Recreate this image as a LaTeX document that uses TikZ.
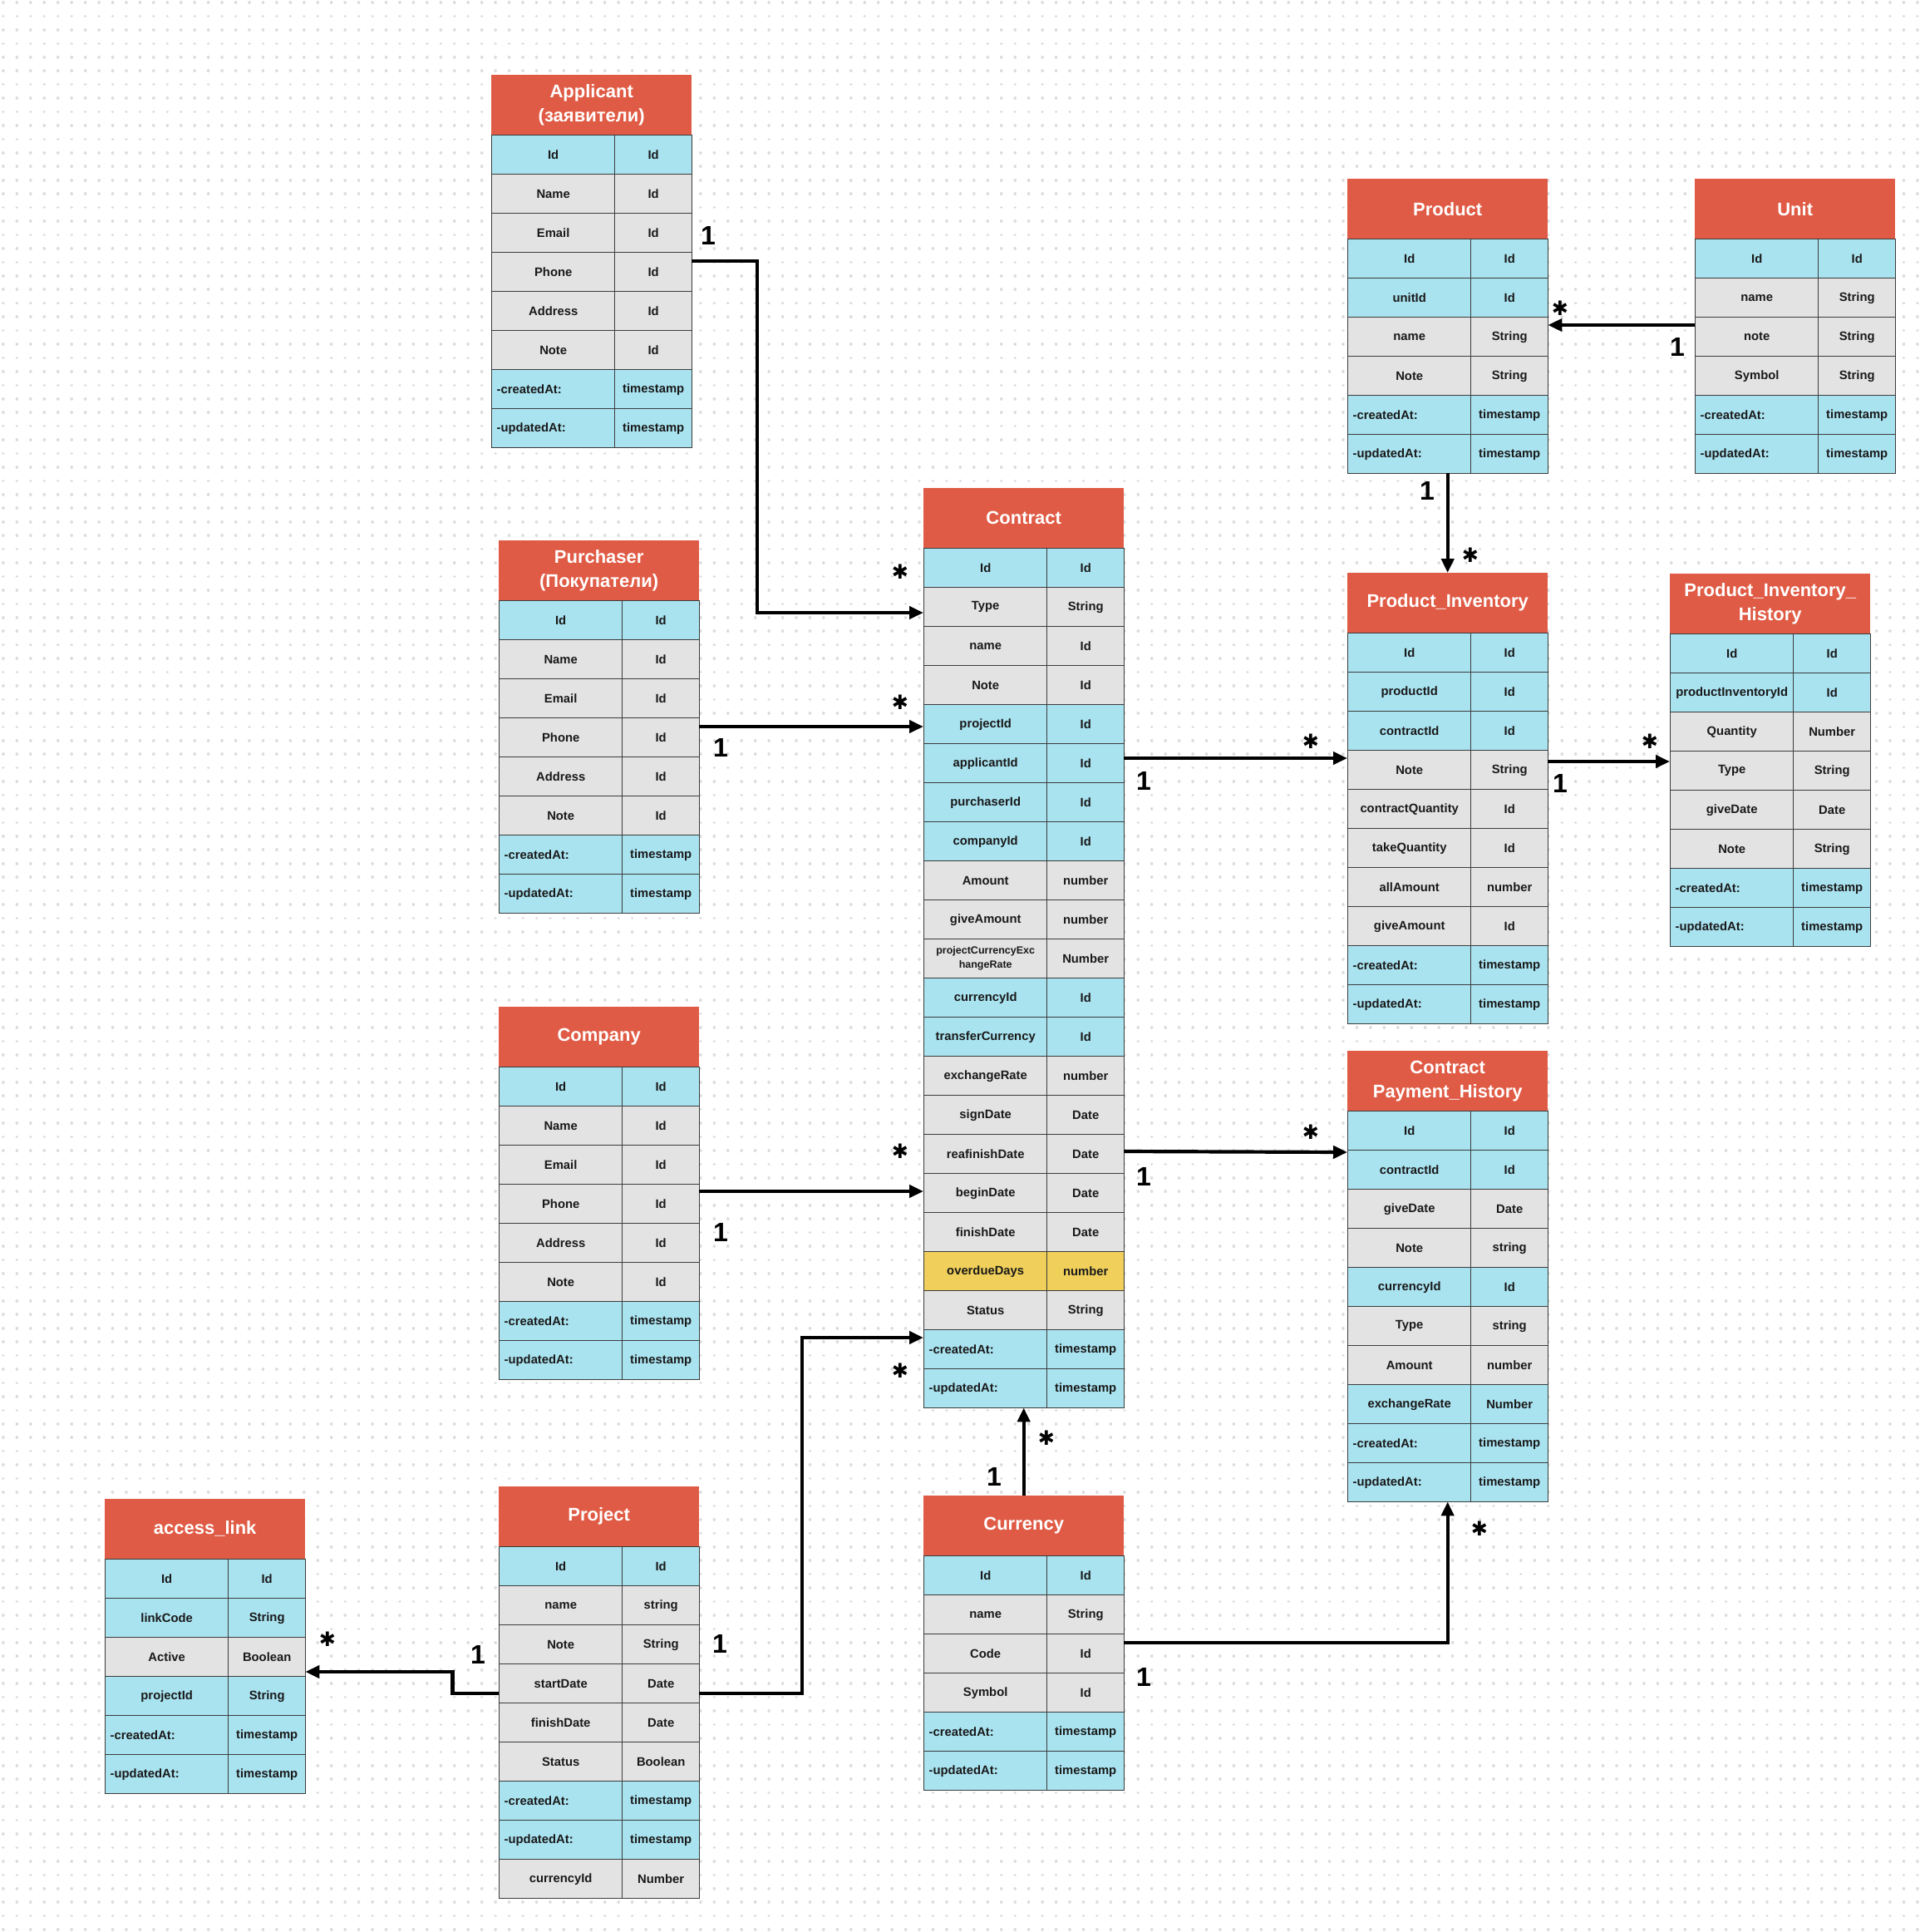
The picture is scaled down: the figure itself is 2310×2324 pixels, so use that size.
\documentclass[tikz,border=0pt]{standalone}
\usepackage{fontspec}
\setmainfont{Liberation Sans}
\newfontfamily\dejavu{DejaVu Sans}
\usetikzlibrary{arrows.meta}
\hyphenpenalty=10000
\definecolor{hdrred}{HTML}{E05B45}
\definecolor{blu}{HTML}{A9E3F0}
\definecolor{gry}{HTML}{E3E3E3}
\definecolor{yel}{HTML}{F0D05A}
\definecolor{bord}{HTML}{3C3C3C}
\definecolor{dotc}{HTML}{DCDCDC}
\tikzset{
  hdr/.style={fill=hdrred, text=white, minimum width=241pt, minimum height=72pt, inner sep=0pt,
    align=center, font=\fontsize{22}{29}\selectfont\bfseries, anchor=north west},
  cellL/.style={draw=bord, line width=1.4pt, minimum height=47pt, minimum width=148pt,
    text width=136pt, inner xsep=6pt, inner ysep=0pt, anchor=north west,
    font=\fontsize{14.8}{17}\selectfont\bfseries, text=black!90},
  cellR/.style={draw=bord, line width=1.4pt, minimum height=47pt, minimum width=93pt,
    text width=85pt, inner xsep=4pt, inner ysep=0pt, align=center, anchor=north west,
    font=\fontsize{14.8}{17}\selectfont\bfseries, text=black!90},
  Lb/.style={fill=blu, align=center}, Rb/.style={fill=blu},
  Lg/.style={fill=gry, align=center}, Rg/.style={fill=gry},
  Ly/.style={fill=yel, align=center}, Ry/.style={fill=yel},
  Lt/.style={fill=blu, align=left}, Rt/.style={fill=blu},
  tab/.style={inner sep=0pt, minimum width=241pt, anchor=north west},
  conn/.style={line width=4.2pt, draw=black, -{Triangle[length=17pt,width=15pt]}},
  one/.style={font=\fontsize{32}{36}\selectfont\bfseries, inner sep=0pt},
  many/.style={font=\dejavu\fontsize{24}{28}\selectfont, inner sep=0pt},
  dotrow/.style={draw=dotc, line width=3.6pt, line cap=round, dash pattern=on 0.01pt off 16.44pt},
}
% #1 name, #2 x, #3 y (top), #4 title, #5 number of rows, #6 rows
\newcommand\ertable[6]{%
  \pgfmathsetmacro\erh{72+47*#5}%
  \node[tab, minimum height=\erh pt] (#1) at (#2,#3) {};
  \node[hdr] (#1-h) at (#2,#3) {#4};
  \foreach [count=\erI] \erC/\erA/\erB in {#6} {
    \node[cellL, L\erC] (#1-\erI-a) at (#2, #3+25+47*\erI) {\erA};
    \node[cellR, R\erC] (#1-\erI-b) at (#2+148, #3+25+47*\erI) {\erB};
  }
}
\begin{document}
\begin{tikzpicture}[x=1pt, y=-1pt]
\fill[white] (0,0) rectangle (2310,2324);
\useasboundingbox (0,0) rectangle (2310,2324);
\foreach \k in {0,...,141} \draw[dotrow] (3.9,3+16.44*\k) -- (2310,3+16.44*\k);

\ertable{app}{591}{90}{Applicant\\(заявители)}{8}{b/Id/Id, g/Name/Id, g/Email/Id, g/Phone/Id, g/Address/Id, g/Note/Id, t/-createdAt:/timestamp, t/-updatedAt:/timestamp}
\ertable{pur}{600}{650}{Purchaser\\(Покупатели)}{8}{b/Id/Id, g/Name/Id, g/Email/Id, g/Phone/Id, g/Address/Id, g/Note/Id, t/-createdAt:/timestamp, t/-updatedAt:/timestamp}
\ertable{comp}{600}{1211}{Company}{8}{b/Id/Id, g/Name/Id, g/Email/Id, g/Phone/Id, g/Address/Id, g/Note/Id, t/-createdAt:/timestamp, t/-updatedAt:/timestamp}
\ertable{proj}{600}{1788}{Project}{9}{b/Id/Id, g/name/string, g/Note/String, g/startDate/Date, g/finishDate/Date, g/Status/Boolean, t/-createdAt:/timestamp, t/-updatedAt:/timestamp, g/currencyId/Number}
\ertable{acc}{126}{1803}{access\_link}{6}{b/Id/Id, b/linkCode/String, g/Active/Boolean, b/projectId/String, t/-createdAt:/timestamp, t/-updatedAt:/timestamp}
\ertable{con}{1111}{587}{Contract}{22}{b/Id/Id, g/Type/String, g/name/Id, g/Note/Id, b/projectId/Id, b/applicantId/Id, b/purchaserId/Id, b/companyId/Id, g/Amount/number, g/giveAmount/number, g/{\fontsize{12.5}{15.5}\selectfont projectCurrencyExc\\hangeRate}/Number, b/currencyId/Id, b/transferCurrency/Id, g/exchangeRate/number, g/signDate/Date, g/reafinishDate/Date, g/beginDate/Date, g/finishDate/Date, y/overdueDays/number, g/Status/String, t/-createdAt:/timestamp, t/-updatedAt:/timestamp}
\ertable{cur}{1111}{1799}{Currency}{6}{b/Id/Id, g/name/String, g/Code/Id, g/Symbol/Id, t/-createdAt:/timestamp, t/-updatedAt:/timestamp}
\ertable{prod}{1621}{215}{Product}{6}{b/Id/Id, b/unitId/Id, g/name/String, g/Note/String, t/-createdAt:/timestamp, t/-updatedAt:/timestamp}
\ertable{unit}{2039}{215}{Unit}{6}{b/Id/Id, g/name/String, g/note/String, g/Symbol/String, t/-createdAt:/timestamp, t/-updatedAt:/timestamp}
\ertable{pinv}{1621}{689}{Product\_Inventory}{10}{b/Id/Id, b/productId/Id, b/contractId/Id, g/Note/String, g/contractQuantity/Id, g/takeQuantity/Id, g/allAmount/number, g/giveAmount/Id, t/-createdAt:/timestamp, t/-updatedAt:/timestamp}
\ertable{pih}{2009}{690}{Product\_Inventory\_\\History}{8}{b/Id/Id, b/productInventoryId/Id, g/Quantity/Number, g/Type/String, g/giveDate/Date, g/Note/String, t/-createdAt:/timestamp, t/-updatedAt:/timestamp}
\ertable{cph}{1621}{1264}{Contract\\Payment\_History}{10}{b/Id/Id, b/contractId/Id, g/giveDate/Date, g/Note/string, b/currencyId/Id, g/Type/string, g/Amount/number, b/exchangeRate/Number, t/-createdAt:/timestamp, t/-updatedAt:/timestamp}

% connectors
\draw[conn] ([yshift=-224pt]app.north east) -| ([xshift=-200pt,yshift=-150pt]con.north west) -- ([yshift=-150pt]con.north west);
\draw[conn] ([yshift=-224pt]pur.north east) -- ([yshift=-287pt]con.north west);
\draw[conn] ([yshift=-222pt]comp.north east) -- ([yshift=-846pt]con.north west);
\draw[conn] ([yshift=-249pt]proj.north east) -| ([xshift=-146pt,yshift=-1022pt]con.north west) -- ([yshift=-1022pt]con.north west);
\draw[conn] ([yshift=-249pt]proj.north west) -| ([xshift=177pt,yshift=-208pt]acc.north east) -- ([yshift=-208pt]acc.north east);
\draw[conn] (cur.north) -- (con.south);
\draw[conn] ([yshift=-177pt]cur.north east) -| (cph.south);
\draw[conn] ([yshift=-798pt]con.north east) -- ([yshift=-122pt]cph.north west);
\draw[conn] ([yshift=-325pt]con.north east) -- ([yshift=-223pt]pinv.north west);
\draw[conn] (prod.south) -- (pinv.north);
\draw[conn] ([yshift=-176pt]unit.north west) -- ([yshift=-176pt]prod.north east);
\draw[conn] ([yshift=-227pt]pinv.north east) -- ([yshift=-226pt]pih.north west);

% multiplicity labels
\node[one] (o1) at (852,283) {1};
\node[one] (o2) at (867,899) {1};
\node[one] (o3) at (867,1482) {1};
\node[one] (o4) at (866,1977) {1};
\node[one] (o5) at (575,1990) {1};
\node[one] (o6) at (1196,1776) {1};
\node[one] (o7) at (1376,2017) {1};
\node[one] (o8) at (1376,1415) {1};
\node[one] (o9) at (1376,939) {1};
\node[one] (o10) at (1717,590) {1};
\node[one] (o11) at (2018,417) {1};
\node[one] (o12) at (1877,942) {1};
\node[many] (m1) at (1083,688) {✱};
\node[many] (m2) at (1083,845) {✱};
\node[many] (m3) at (1083,1385) {✱};
\node[many] (m4) at (1083,1649) {✱};
\node[many] (m5) at (394,1972) {✱};
\node[many] (m6) at (1259,1730) {✱};
\node[many] (m7) at (1780,1839) {✱};
\node[many] (m8) at (1577,1362) {✱};
\node[many] (m9) at (1577,892) {✱};
\node[many] (m10) at (1769,668) {✱};
\node[many] (m11) at (1877,371) {✱};
\node[many] (m12) at (1985,892) {✱};
\end{tikzpicture}
\end{document}
